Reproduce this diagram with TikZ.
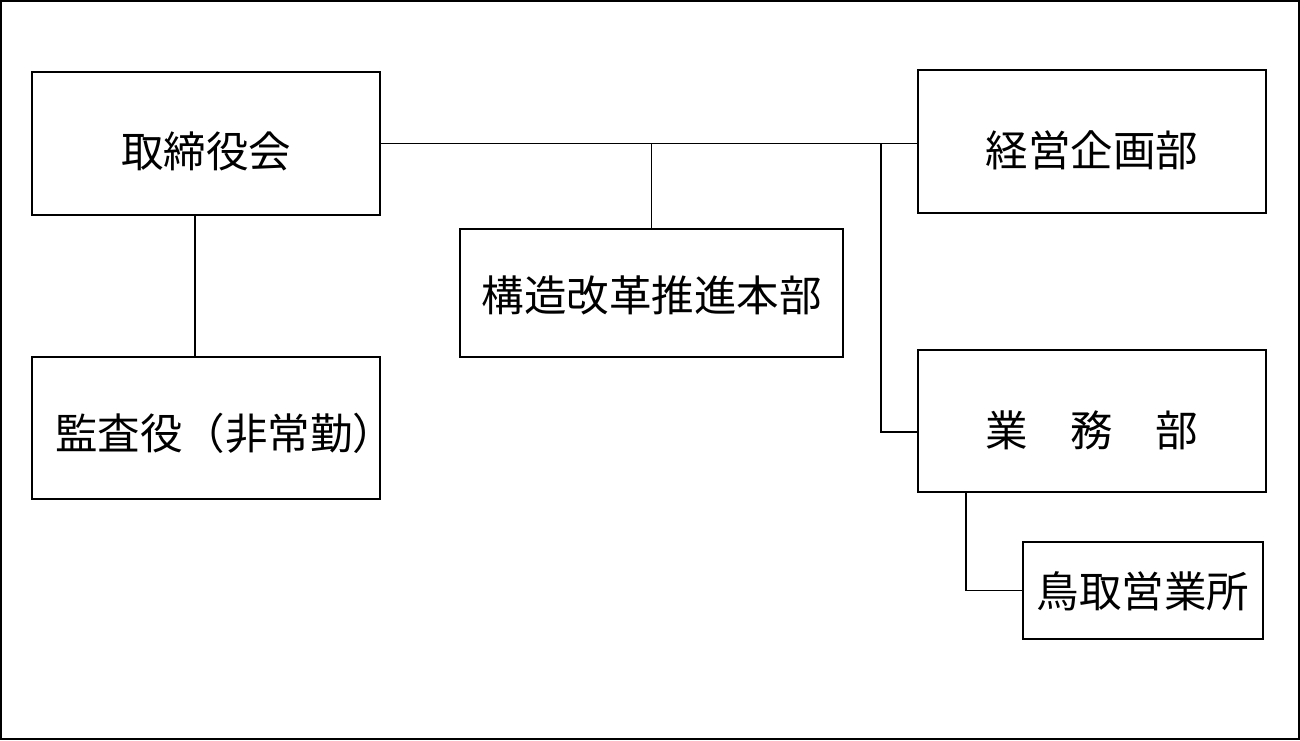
\documentclass[tikz,border=0pt]{standalone}
\usepackage{fontspec}
\newfontfamily\jp{Noto Sans CJK JP}
\begin{document}
\begin{tikzpicture}[x=1pt,y=-1pt,
  orgbox/.style={draw=black, line width=1.6pt, rectangle, inner sep=0pt,
    font=\jp\fontsize{42.5}{50}\selectfont, text depth=5pt},
  link/.style={draw=black, line width=1.6pt}]
\useasboundingbox (0,0) rectangle (1300,740);
\draw[line width=2.4pt] (1.2,1.2) rectangle (1298.8,738.8);
\node[orgbox, minimum width=348pt, minimum height=143pt, text height=52pt] (A) at (206,143.5) {取締役会};
\node[orgbox, minimum width=348pt, minimum height=142pt, text height=47pt] (B) at (206,428) {\hspace*{19pt}監査役（非常勤）\hspace*{-19pt}};
\node[orgbox, minimum width=383pt, minimum height=128pt, text height=42pt] (C) at (651.5,293) {構造改革推進本部};
\node[orgbox, minimum width=348pt, minimum height=143pt, text height=55pt] (D) at (1092,141.5) {経営企画部};
\node[orgbox, minimum width=348pt, minimum height=142pt, text height=55pt] (E) at (1092,421) {業　務　部};
\node[orgbox, minimum width=240pt, minimum height=97pt, text height=38pt] (F) at (1143,590.5) {鳥取営業所};
\coordinate (T) at (881,143.5);
\draw[link] (A.east) -- (A.east -| D.west);
\draw[link] (C.north) -- (C.north |- A.east);
\draw[link] (T) |- ([yshift=-11pt]E.west);
\draw[link] ([xshift=-11pt]A.south) -- ([xshift=-11pt]B.north);
\draw[link] ([xshift=-126pt]E.south) |- (F.west);
\end{tikzpicture}
\end{document}
